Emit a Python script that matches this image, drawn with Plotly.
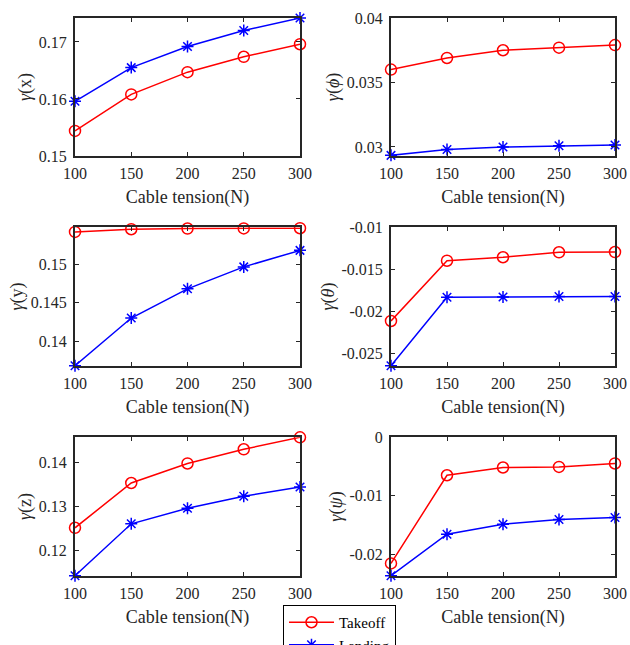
import plotly.graph_objects as go

tension = [100, 150, 200, 250, 300]

takeoff_x = [0.1544, 0.1608, 0.1647, 0.1674, 0.1696]
landing_x = [0.1596, 0.1655, 0.1692, 0.1720, 0.1742]
takeoff_phi = [0.0360, 0.0369, 0.0375, 0.0377, 0.0379]
landing_phi = [0.02935, 0.0298, 0.0300, 0.0301, 0.03015]
takeoff_y = [0.1542, 0.15455, 0.15464, 0.15466, 0.15468]
landing_y = [0.1368, 0.1430, 0.1468, 0.14965, 0.1518]
takeoff_theta = [-0.0211, -0.01396, -0.01355, -0.01296, -0.01293]
landing_theta = [-0.0264, -0.01829, -0.01825, -0.0182, -0.0182]
takeoff_z = [0.1252, 0.1353, 0.1397, 0.1429, 0.1456]
landing_z = [0.1144, 0.1261, 0.1296, 0.1323, 0.1344]
takeoff_psi = [-0.0216, -0.0065, -0.00517, -0.00507, -0.00448]
landing_psi = [-0.0237, -0.0166, -0.01488, -0.01408, -0.01374]

x_ticks = [100, 150, 200, 250, 300]

panels = [
    dict(to=takeoff_x, la=landing_x, title="<i>γ</i>(x)", yr=[0.15, 0.1742],
         tv=[0.15, 0.16, 0.17], tt=["0.15", "0.16", "0.17"]),
    dict(to=takeoff_phi, la=landing_phi, title="<i>γ</i>(<i>ϕ</i>)", yr=[0.0293, 0.04],
         tv=[0.03, 0.035, 0.04], tt=["0.03", "0.035", "0.04"]),
    dict(to=takeoff_y, la=landing_y, title="<i>γ</i>(y)", yr=[0.1368, 0.1548],
         tv=[0.14, 0.145, 0.15], tt=["0.14", "0.145", "0.15"]),
    dict(to=takeoff_theta, la=landing_theta, title="<i>γ</i>(<i>θ</i>)", yr=[-0.0264, -0.01],
         tv=[-0.025, -0.02, -0.015, -0.01], tt=["-0.025", "-0.02", "-0.015", "-0.01"]),
    dict(to=takeoff_z, la=landing_z, title="<i>γ</i>(z)", yr=[0.1144, 0.1456],
         tv=[0.12, 0.13, 0.14], tt=["0.12", "0.13", "0.14"]),
    dict(to=takeoff_psi, la=landing_psi, title="<i>γ</i>(<i>ψ</i>)", yr=[-0.0237, 0],
         tv=[-0.02, -0.01, 0], tt=["-0.02", "-0.01", "0"]),
]

W, H = 630, 645
col_px = [(75, 300), (391, 615)]
row_px = [(18, 156), (227.3, 365.7), (437.3, 575.7)]

FONT = "Liberation Serif"
AX_COL = "#262626"
FS = 16
FS_LABEL = 18

fig = go.Figure()
layout = dict(
    width=W, height=H, margin=dict(l=0, r=0, t=0, b=0, autoexpand=False),
    paper_bgcolor="white", plot_bgcolor="white",
    font=dict(family=FONT, size=FS, color=AX_COL),
    showlegend=True,
    legend=dict(x=283 / W, y=1 - 605 / H, xanchor="left", yanchor="top",
                bordercolor="black", borderwidth=1, bgcolor="white",
                font=dict(family=FONT, size=15, color="black"),
                itemwidth=45, tracegroupgap=0),
)

for i, p in enumerate(panels):
    r, c = divmod(i, 2)
    idx = i + 1
    xa = "x" if idx == 1 else f"x{idx}"
    ya = "y" if idx == 1 else f"y{idx}"
    fig.add_trace(go.Scatter(
        x=tension, y=p["to"], xaxis=xa, yaxis=ya, mode="lines+markers",
        name="Takeoff", showlegend=(i == 0), cliponaxis=False,
        line=dict(color="#ff0000", width=1.5),
        marker=dict(symbol="circle-open", size=11, color="#ff0000", line=dict(width=1.5)),
    ))
    fig.add_trace(go.Scatter(
        x=tension, y=p["la"], xaxis=xa, yaxis=ya, mode="lines+markers",
        name="Landing", showlegend=(i == 0), cliponaxis=False,
        line=dict(color="#0000ff", width=1.5),
        marker=dict(symbol="asterisk-open", size=10, color="#0000ff", line=dict(width=1.5, color="#0000ff")),
    ))
    x0, x1 = col_px[c]
    y0, y1 = row_px[r]
    common = dict(showline=True, linecolor=AX_COL, linewidth=2, mirror="ticks",
                  ticks="inside", ticklen=4, tickwidth=1, tickcolor=AX_COL,
                  showgrid=False, zeroline=False, automargin=False,
                  ticklabeloverflow="allow",
                  tickfont=dict(family=FONT, size=FS, color=AX_COL))
    layout["xaxis" if idx == 1 else f"xaxis{idx}"] = dict(
        domain=[x0 / W, x1 / W], anchor=ya, range=[100, 300],
        tickvals=x_ticks, ticktext=[str(v) for v in x_ticks],
        ticklabelstandoff=2,
        title=dict(text="Cable tension(N)", standoff=9,
                   font=dict(family=FONT, size=FS_LABEL, color=AX_COL)),
        **common)
    layout["yaxis" if idx == 1 else f"yaxis{idx}"] = dict(
        domain=[1 - y1 / H, 1 - y0 / H], anchor=xa, range=p["yr"],
        tickvals=p["tv"], ticktext=p["tt"],
        ticklabelstandoff=3,
        title=dict(text=p["title"], standoff=2,
                   font=dict(family=FONT, size=FS_LABEL, color=AX_COL)),
        **common)

fig.update_layout(**layout)
fig.write_html(
    "out.html",
    config={"displayModeBar": False},
    post_script="document.body.style.margin='0';document.body.style.overflow='hidden';",
)
